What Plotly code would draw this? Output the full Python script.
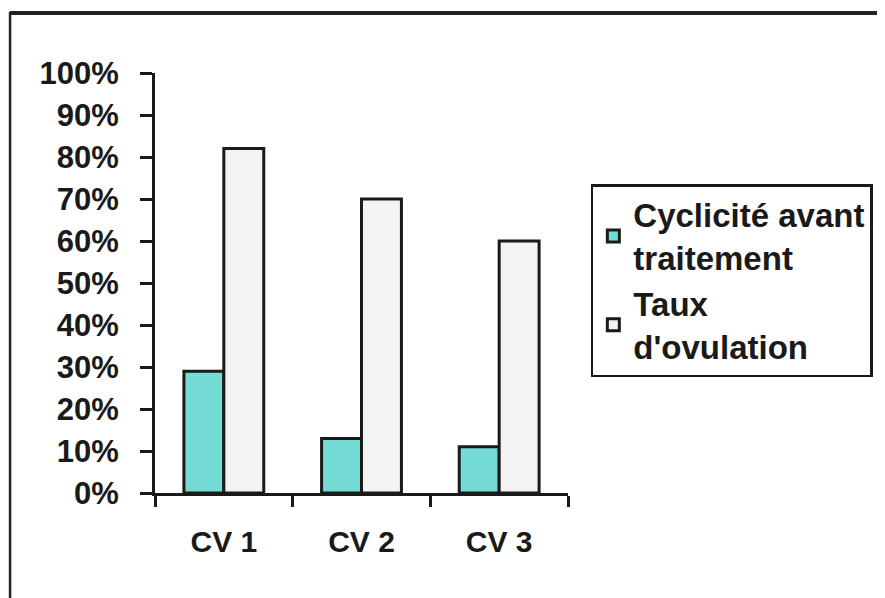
import plotly.graph_objects as go

categories = ["CV 1", "CV 2", "CV 3"]
cyclicite = [29, 13, 11]
ovulation = [82, 70, 60]
series_names = ["Cyclicité avant<br>traitement", "Taux<br>d'ovulation"]
y_ticks = [0, 10, 20, 30, 40, 50, 60, 70, 80, 90, 100]
y_tick_labels = [f"{v}%" for v in y_ticks]

# page body has an 8px default margin; work in screen pixels minus offset
OFF = 8
W, H = 885 - OFF, 598 - OFF
PL, PR, PT, PB = 155, 571, 73, 493  # plot area in screen pixels
L, R, T, B = PL - OFF, W - (PR - OFF), PT - OFF, H - (PB - OFF)

font_family = "Liberation Sans, Arial, sans-serif"

fig = go.Figure()
fig.add_trace(go.Bar(
    x=categories, y=cyclicite, name=series_names[0],
    marker=dict(color="#74DCD4", line=dict(color="#1a1a1a", width=3)),
))
fig.add_trace(go.Bar(
    x=categories, y=ovulation, name=series_names[1],
    marker=dict(color="#F3F3F3", line=dict(color="#1a1a1a", width=3)),
))

def px_x(px):
    return (px - PL) / (PR - PL)

def px_y(py):
    return (PB - py) / (PB - PT)

fig.update_layout(
    width=W, height=H,
    margin=dict(l=L, r=R, t=T, b=B),
    paper_bgcolor="white", plot_bgcolor="white",
    barmode="group", bargap=0.42, bargroupgap=0,
    font=dict(family=font_family, color="#1a1a1a"),
    showlegend=True,
    legend=dict(
        x=px_x(594), y=px_y(184), xanchor="left", yanchor="top",
        bordercolor="#1a1a1a", borderwidth=2.5, bgcolor="white",
        font=dict(size=33, family=font_family, weight="bold", color="#1a1a1a"),
        tracegroupgap=5, itemwidth=30,
    ),
    xaxis=dict(
        type="category", showline=True, linecolor="#1a1a1a", linewidth=3,
        ticks="outside", tickson="boundaries", ticklen=11, tickwidth=2.5,
        tickcolor="#1a1a1a", showgrid=False, zeroline=False,
        tickfont=dict(size=30, family=font_family, weight="bold", color="#1a1a1a"),
        ticklabelstandoff=20,
    ),
    yaxis=dict(
        range=[0, 100], tickmode="array", tickvals=y_ticks, ticktext=y_tick_labels,
        showline=True, linecolor="#1a1a1a", linewidth=3,
        ticks="outside", ticklen=12, tickwidth=2.5, tickcolor="#1a1a1a",
        showgrid=False, zeroline=False,
        tickfont=dict(size=31, family=font_family, weight="bold", color="#1a1a1a"),
        ticklabelstandoff=15,
    ),
    shapes=[
        dict(type="rect", xref="paper", yref="paper",
             x0=px_x(9), x1=px_x(1000), y0=px_y(700), y1=px_y(13),
             line=dict(color="#222", width=2.5), layer="below"),
        dict(type="line", xref="paper", yref="paper",
             x0=px_x(9), x1=px_x(1000), y0=px_y(13), y1=px_y(13),
             line=dict(color="#222", width=4)),
    ],
)

fig.write_html("out.html")
